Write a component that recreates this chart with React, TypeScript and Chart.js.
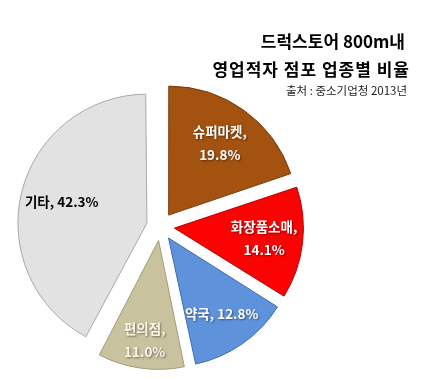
import React, { useEffect, useRef } from "react";
import { Chart, registerables } from "chart.js";

Chart.register(...registerables);

const categories = ["슈퍼마켓", "화장품소매", "약국", "편의점", "기타"];
const values = [19.8, 14.1, 12.8, 11.0, 42.3];
const titleLines = ["드럭스토어 800m내", "영업적자 점포 업종별 비율"];
const sourceText = "출처 : 중소기업청 2013년";

const fillColors = ["#A3520F", "#FB0303", "#5E93DC", "#C9C29E", "#E2E2E2"];
const borderColors = ["#7A3A0A", "#B00000", "#3D6DAD", "#A39C78", "#A8A8A8"];
const labelColors = ["#FFFFFF", "#FFFFFF", "#FFFFFF", "#FAF6E8", "#000000"];
const labelSplit = [true, true, false, true, false];
const labelDist = [0.68, 0.7, 0.72, 0.78, 0.68];

const FONT = "'Noto Sans CJK KR', 'Noto Sans', sans-serif";
const EXPLODE = 14; // visual pull-out distance in px (Chart.js translates by offset/4)

// Chart.js enlarges narrow exploded slices by (offset/4)*fix; undo that so all slices share one radius.
const equalRadiusPlugin = {
  id: "equalRadius",
  beforeDatasetsDraw(chart: any) {
    const meta = chart.getDatasetMeta(0);
    const baseR = meta.controller.outerRadius;
    meta.data.forEach((arc: any) => {
      const fix = 1 - Math.sin(Math.min(Math.PI, arc.circumference || 0));
      const off = (arc.options.offset || 0) / 4;
      arc.outerRadius = baseR - off * fix;
    });
  },
};

const labelPlugin = {
  id: "sliceLabels",
  afterDatasetsDraw(chart: any) {
    const ctx = chart.ctx;
    const meta = chart.getDatasetMeta(0);
    const baseR = meta.controller.outerRadius;
    ctx.save();
    ctx.textAlign = "center";
    ctx.textBaseline = "middle";
    ctx.font = `bold 13.5px ${FONT}`;
    meta.data.forEach((arc: any, i: number) => {
      const mid = (arc.startAngle + arc.endAngle) / 2;
      const off = (arc.options.offset || 0) / 4;
      const d = off + baseR * labelDist[i];
      const cx = arc.x + Math.cos(mid) * d;
      const cy = arc.y + Math.sin(mid) * d;
      const pct = values[i].toFixed(1) + "%";
      const lines = labelSplit[i]
        ? [categories[i] + ",", pct]
        : [categories[i] + ", " + pct];
      if (labelColors[i] !== "#000000") {
        ctx.shadowColor = "rgba(0,0,0,0.45)";
        ctx.shadowBlur = 2;
        ctx.shadowOffsetX = 1;
        ctx.shadowOffsetY = 1;
      } else {
        ctx.shadowColor = "transparent";
      }
      ctx.fillStyle = labelColors[i];
      const lh = 23;
      lines.forEach((t, j) => {
        ctx.fillText(t, cx, cy + (j - (lines.length - 1) / 2) * lh);
      });
    });
    ctx.restore();
  },
};

const titlePlugin = {
  id: "titleText",
  afterDraw(chart: any) {
    const ctx = chart.ctx;
    ctx.save();
    ctx.textAlign = "right";
    ctx.textBaseline = "middle";
    ctx.fillStyle = "#000000";
    ctx.font = `bold 17px ${FONT}`;
    ctx.fillText(titleLines[0], 405, 42);
    (ctx as any).letterSpacing = "1px";
    ctx.fillText(titleLines[1], 410, 70);
    (ctx as any).letterSpacing = "0px";
    ctx.fillStyle = "#222222";
    ctx.font = `11.5px ${FONT}`;
    ctx.fillText(sourceText, 407, 91);
    ctx.restore();
  },
};

export default function App() {
  const ref = useRef<HTMLCanvasElement>(null);
  useEffect(() => {
    document.body.style.margin = "0";
    const chart = new Chart(ref.current!, {
      type: "pie",
      data: {
        labels: categories,
        datasets: [
          {
            data: values,
            backgroundColor: fillColors,
            borderColor: borderColors,
            borderWidth: 1,
            offset: EXPLODE * 4,
          },
        ],
      },
      options: {
        responsive: false,
        animation: false,
        radius: 129,
        layout: { padding: { left: 23, right: 131, top: 89, bottom: 15 } },
        plugins: {
          legend: { display: false },
          tooltip: { enabled: false },
          title: { display: false },
        },
      } as any,
      plugins: [equalRadiusPlugin, labelPlugin, titlePlugin],
    });
    return () => chart.destroy();
  }, []);
  return (
    <div style={{ width: 429, height: 379, background: "#FFFFFF" }}>
      <canvas ref={ref} width={429} height={379} />
    </div>
  );
}
